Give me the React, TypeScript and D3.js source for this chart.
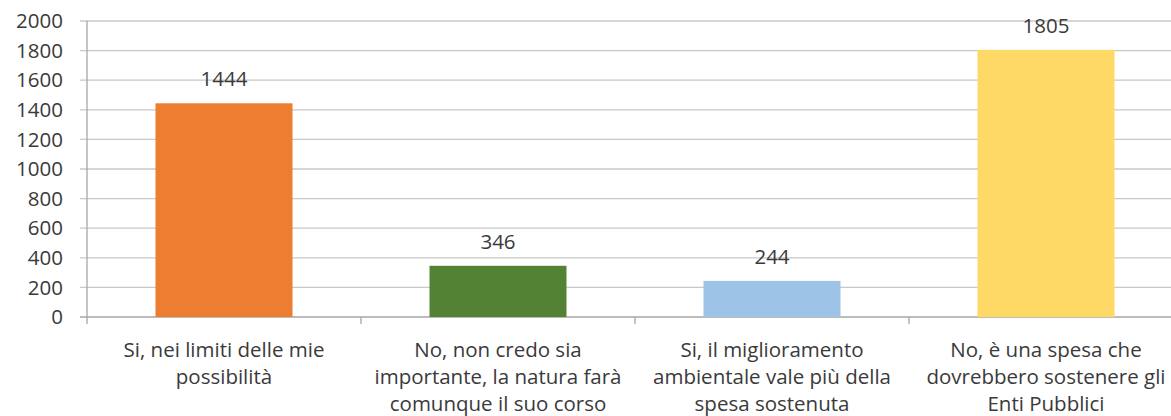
import React from "react";
import * as d3 from "d3";

const categories: string[][] = [
  ["Si, nei limiti delle mie", "possibilità"],
  ["No, non credo sia", "importante, la natura farà", "comunque il suo corso"],
  ["Si, il miglioramento", "ambientale vale più della", "spesa sostenuta"],
  ["No, è una spesa che", "dovrebbero sostenere gli", "Enti Pubblici"],
];
const values: number[] = [1444, 346, 244, 1805];
const colors: string[] = ["#ED7D31", "#548235", "#9DC3E6", "#FFD966"];
const yTicks: number[] = [0, 200, 400, 600, 800, 1000, 1200, 1400, 1600, 1800, 2000];

const W = 1171;
const H = 416;
const FONT = "'Open Sans', sans-serif";
const FS = 20.5;
const TXT = "#3a3a3a";

export default function App() {
  const keys = categories.map((_, i) => String(i));
  const x = d3.scaleBand<string>().domain(keys).range([87, 1183]).paddingInner(0.5).paddingOuter(0.25);
  const y = d3.scaleLinear().domain([0, 2000]).range([317, 21]);
  const step = x.step();
  const catEdges = d3.range(keys.length + 1).map((i) => 87 + i * step);

  return (
    <svg width={W} height={H} style={{ position: "absolute", left: 0, top: 0, background: "#fff" }}>
      {yTicks.map((t) => (
        <g key={t}>
          <line x1={80} x2={W} y1={y(t)} y2={y(t)} stroke={t === 0 ? "#a6a6a6" : "#c8c8c8"} strokeWidth={1.3} />
          <text x={63} y={y(t)} dy="0.35em" textAnchor="end" fontFamily={FONT} fontSize={FS} fill={TXT}>
            {t}
          </text>
        </g>
      ))}
      <line x1={87} x2={87} y1={y(2000)} y2={y(0)} stroke="#a6a6a6" strokeWidth={1.3} />
      {catEdges.map((e, i) => (
        <line key={i} x1={e} x2={e} y1={y(0)} y2={y(0) + 7} stroke="#a6a6a6" strokeWidth={1.3} />
      ))}
      {values.map((v, i) => (
        <g key={i}>
          <rect x={x(keys[i])!} y={y(v)} width={x.bandwidth()} height={y(0) - y(v)} fill={colors[i]} />
          <text
            x={x(keys[i])! + x.bandwidth() / 2}
            y={y(v) - 17}
            textAnchor="middle"
            fontFamily={FONT}
            fontSize={FS}
            fill={TXT}
          >
            {v}
          </text>
        </g>
      ))}
      {categories.map((lines, i) => (
        <text
          key={i}
          x={x(keys[i])! + x.bandwidth() / 2}
          y={357}
          textAnchor="middle"
          fontFamily={FONT}
          fontSize={FS}
          fill={TXT}
        >
          {lines.map((l, j) => (
            <tspan key={j} x={x(keys[i])! + x.bandwidth() / 2} dy={j === 0 ? 0 : 27}>
              {l}
            </tspan>
          ))}
        </text>
      ))}
    </svg>
  );
}
